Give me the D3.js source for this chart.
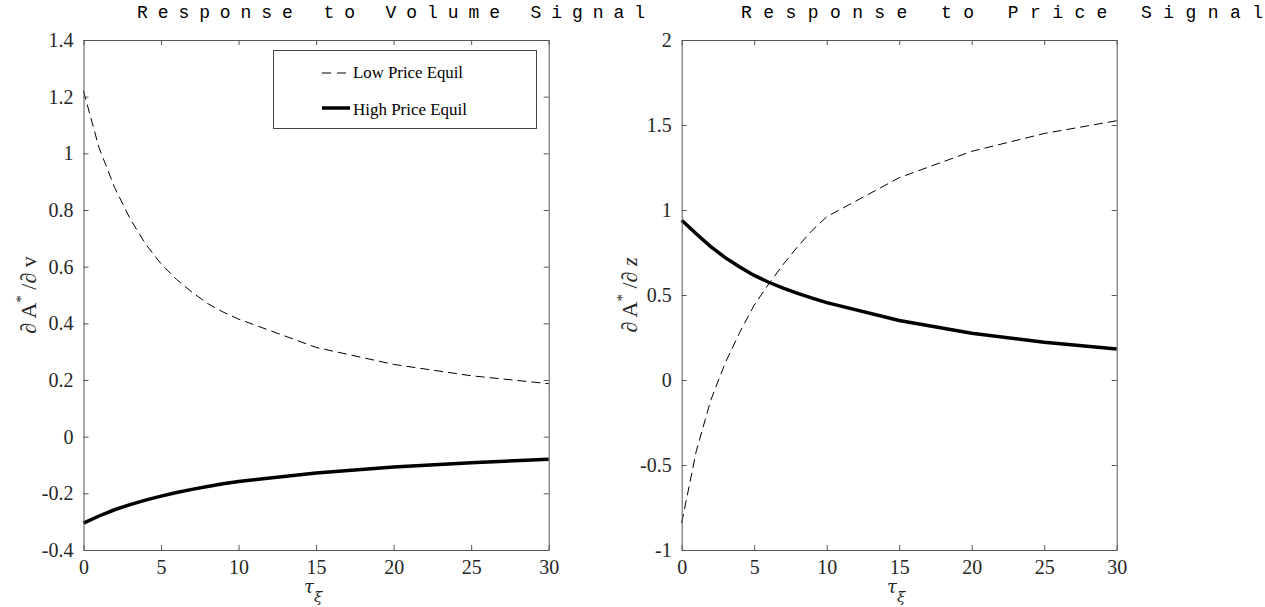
<!DOCTYPE html>
<html>
<head>
<meta charset="utf-8">
<script src="https://cdn.jsdelivr.net/npm/d3@7"></script>
<style>
  body { margin: 0; background: #fff; }
  svg { display: block; }
  .tick text { font-family: "Liberation Serif", "DejaVu Serif", serif; font-size: 20px; fill: #262626; }
  .domain, .tick line { stroke: #555; }
</style>
</head>
<body>
<div id="chart"></div>
<script>
var svgWidth = 1265;
var svgHeight = 607;

// tau values where the model was evaluated
var tau = [0, 1, 2, 3, 4, 5, 6, 7, 8, 9, 10, 15, 20, 25, 30];

// response to volume signal
var volumeLow = [1.22, 1.02, 0.88, 0.77, 0.68, 0.61, 0.555, 0.51, 0.47, 0.44, 0.415, 0.315, 0.255, 0.215, 0.187];
var volumeHigh = [-0.305, -0.28, -0.258, -0.24, -0.224, -0.21, -0.197, -0.186, -0.176, -0.166, -0.158, -0.128, -0.107, -0.092, -0.08];

// response to price signal
var priceLow = [-0.84, -0.42, -0.12, 0.10, 0.28, 0.44, 0.565, 0.68, 0.785, 0.88, 0.96, 1.19, 1.345, 1.45, 1.525];
var priceHigh = [0.94, 0.86, 0.785, 0.72, 0.665, 0.615, 0.575, 0.54, 0.51, 0.482, 0.455, 0.35, 0.275, 0.222, 0.183];

var xTicks = [0, 5, 10, 15, 20, 25, 30];
var volumeTicks = [-0.4, -0.2, 0, 0.2, 0.4, 0.6, 0.8, 1, 1.2, 1.4];
var priceTicks = [-1, -0.5, 0, 0.5, 1, 1.5, 2];

var legendLabels = ['Low Price Equil', 'High Price Equil'];

var panels = [
    {title: 'Response to Volume Signal', titleX: 137, titleLen: 508, left: 83.5, right: 548.7,
     yDomain: [-0.4, 1.4], ticks: volumeTicks, low: volumeLow, high: volumeHigh, ylab: 'v', ylabX: 36, legend: true},
    {title: 'Response to Price Signal', titleX: 741, titleLen: 522, left: 681.7, right: 1116.7,
     yDomain: [-1, 2], ticks: priceTicks, low: priceLow, high: priceHigh, ylab: 'z', ylabX: 637, legend: false}
];

var plotTop = 40;
var plotBottom = 550;

var svg = d3.select('#chart')
    .append('svg')
    .attr('width', svgWidth)
    .attr('height', svgHeight);

// plain hyphen for negatives, like the original
var fmt = d => String(d);

panels.forEach(function(p) {
    var xScale = d3.scaleLinear().domain([0, 30]).range([p.left, p.right]);
    var yScale = d3.scaleLinear().domain(p.yDomain).range([plotBottom, plotTop]);

    var line = d3.line()
        .x((d, i) => xScale(tau[i]))
        .y(d => yScale(d));

    svg.append('path')
        .datum(p.low)
        .attr('d', line)
        .attr('fill', 'none')
        .attr('stroke', '#000')
        .attr('stroke-width', 1)
        .attr('stroke-dasharray', '9,5');

    svg.append('path')
        .datum(p.high)
        .attr('d', line)
        .attr('fill', 'none')
        .attr('stroke', '#000')
        .attr('stroke-width', 3.5);

    // axes, ticks pointing inward on every side
    svg.append('g')
        .attr('transform', `translate(0, ${plotBottom})`)
        .call(d3.axisBottom(xScale).tickValues(xTicks).tickSizeInner(-5).tickSizeOuter(0).tickPadding(10).tickFormat(fmt));
    svg.append('g')
        .attr('transform', `translate(0, ${plotTop})`)
        .call(d3.axisTop(xScale).tickValues(xTicks).tickSizeInner(-5).tickSizeOuter(0).tickFormat(''));
    svg.append('g')
        .attr('transform', `translate(${p.left}, 0)`)
        .call(d3.axisLeft(yScale).tickValues(p.ticks).tickSizeInner(-5).tickSizeOuter(0).tickPadding(10).tickFormat(fmt));
    svg.append('g')
        .attr('transform', `translate(${p.right}, 0)`)
        .call(d3.axisRight(yScale).tickValues(p.ticks).tickSizeInner(-5).tickSizeOuter(0).tickFormat(''));

    svg.append('text')
        .attr('x', p.titleX)
        .attr('y', 18)
        .attr('font-family', '"Liberation Mono", "DejaVu Sans Mono", monospace')
        .attr('font-size', 18)
        .attr('fill', '#000')
        .attr('textLength', p.titleLen)
        .attr('lengthAdjust', 'spacing')
        .text(p.title);

    // x label tau_xi
    var xl = svg.append('text')
        .attr('x', (p.left + p.right) / 2 - 3)
        .attr('y', 593)
        .attr('text-anchor', 'middle')
        .attr('font-family', '"DejaVu Serif", serif')
        .attr('font-style', 'italic')
        .attr('font-size', 18)
        .attr('fill', '#262626');
    xl.append('tspan').text('τ');
    xl.append('tspan').attr('dy', 9).attr('font-size', 15).text('ξ');

    // y label
    var yl = svg.append('text')
        .attr('transform', `translate(${p.ylabX}, ${(plotTop + plotBottom) / 2}) rotate(-90)`)
        .attr('text-anchor', 'middle')
        .attr('font-family', '"Liberation Serif", serif')
        .attr('font-size', 22)
        .attr('fill', '#262626');
    yl.append('tspan').text('∂ A');
    yl.append('tspan').attr('dy', -10).attr('font-size', 15).text('*');
    yl.append('tspan').attr('dy', 10).text(' /∂ ');
    yl.append('tspan').attr('font-style', p.ylab === 'z' ? 'italic' : 'normal').text(p.ylab);

    if (p.legend) {
        var legend = svg.append('g');
        legend.append('rect')
            .attr('x', 273.5)
            .attr('y', 50.5)
            .attr('width', 263)
            .attr('height', 78)
            .attr('fill', '#fff')
            .attr('stroke', '#444');
        legend.selectAll('line')
            .data(legendLabels)
            .enter()
            .append('line')
            .attr('x1', 322)
            .attr('x2', (d, i) => i === 0 ? 346 : 350)
            .attr('y1', (d, i) => 73 + 35 * i)
            .attr('y2', (d, i) => 73 + 35 * i)
            .attr('stroke', '#000')
            .attr('stroke-width', (d, i) => i === 0 ? 1 : 3.5)
            .attr('stroke-dasharray', (d, i) => i === 0 ? '9,6' : null);
        legend.selectAll('text')
            .data(legendLabels)
            .enter()
            .append('text')
            .attr('x', 353)
            .attr('y', (d, i) => 78 + 37 * i)
            .attr('font-family', '"Liberation Serif", serif')
            .attr('font-size', 17)
            .attr('fill', '#000')
            .attr('textLength', (d, i) => i === 0 ? 110 : 114)
            .attr('lengthAdjust', 'spacingAndGlyphs')
            .text(d => d);
    }
});
</script>
</body>
</html>
